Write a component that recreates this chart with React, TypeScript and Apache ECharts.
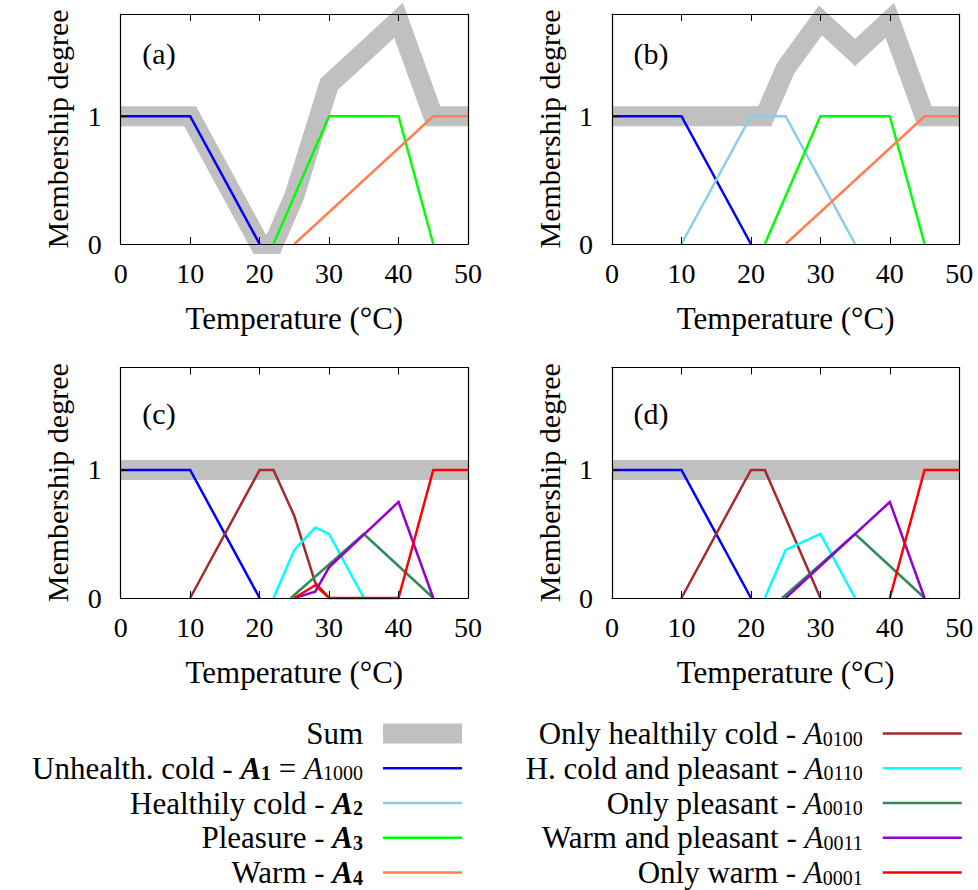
import React, { useEffect, useRef } from 'react';
import * as echarts from 'echarts';

type Pt = [number, number];

const FONT = 'Liberation Serif';

const xMin = 0;
const xMax = 50;
const xStep = 10;
const yMin = 0;
const yMax = 1.8;
const yStep = 1;
const xTitle = 'Temperature (°C)';
const yTitle = 'Membership degree';
const panelLetters = ['(a)', '(b)', '(c)', '(d)'];

const nameSum = 'Sum';
const nameA1 = 'Unhealth. cold - A1 = A1000';
const nameA2 = 'Healthily cold - A2';
const nameA3 = 'Pleasure - A3';
const nameA4 = 'Warm - A4';
const nameA0100 = 'Only healthily cold - A0100';
const nameA0110 = 'H. cold and pleasant - A0110';
const nameA0010 = 'Only pleasant - A0010';
const nameA0011 = 'Warm and pleasant - A0011';
const nameA0001 = 'Only warm - A0001';

const legendLeft = [nameSum, nameA1, nameA2, nameA3, nameA4];
const legendRight = [nameA0100, nameA0110, nameA0010, nameA0011, nameA0001];

const aSum: Pt[] = [[0, 1], [10, 1], [20, 0], [22, 0], [25, 0.375], [30, 1.25], [40, 1.75], [45, 1], [50, 1]];
const aA1: Pt[] = [[0, 1], [10, 1], [20, 0]];
const aA3: Pt[] = [[22, 0], [30, 1], [40, 1], [45, 0]];
const aA4: Pt[] = [[25, 0], [45, 1], [50, 1]];

const bSum: Pt[] = [[0, 1], [10, 1], [20, 1], [22, 1], [25, 1.375], [30, 1.75], [35, 1.5], [40, 1.75], [45, 1], [50, 1]];
const bA1: Pt[] = [[0, 1], [10, 1], [20, 0]];
const bA2: Pt[] = [[10, 0], [20, 1], [25, 1], [35, 0]];
const bA3: Pt[] = [[22, 0], [30, 1], [40, 1], [45, 0]];
const bA4: Pt[] = [[25, 0], [45, 1], [50, 1]];

const cSum: Pt[] = [[0, 1], [50, 1]];
const cA1000: Pt[] = [[0, 1], [10, 1], [20, 0]];
const cA0100: Pt[] = [[10, 0], [20, 1], [22, 1], [25, 0.64], [28, 0.12], [30, 0]];
const cA0110: Pt[] = [[22, 0], [25, 0.375], [28, 0.55], [30, 0.5], [35, 0]];
const cA0010: Pt[] = [[24.5, 0], [35, 0.5], [45, 0]];
const cA0011: Pt[] = [[25, 0], [28, 0.05], [30, 0.24], [40, 0.75], [45, 0]];
const cA0001: Pt[] = [[25, 0], [28, 0.1], [30, 0], [40, 0], [45, 1], [50, 1]];

const dSum: Pt[] = [[0, 1], [50, 1]];
const dA1000: Pt[] = [[0, 1], [10, 1], [20, 0]];
const dA0100: Pt[] = [[10, 0], [20, 1], [22, 1], [30, 0]];
const dA0110: Pt[] = [[22, 0], [25, 0.375], [30, 0.5], [35, 0]];
const dA0010: Pt[] = [[24.5, 0], [35, 0.5], [45, 0]];
const dA0011: Pt[] = [[25, 0], [40, 0.75], [45, 0]];
const dA0001: Pt[] = [[40, 0], [45, 1], [50, 1]];

const colors: Record<string, string> = {
  [nameSum]: '#c0c0c0',
  [nameA1]: '#0000ff',
  [nameA2]: '#87ceeb',
  [nameA3]: '#00ff00',
  [nameA4]: '#ff7f50',
  [nameA0100]: '#a52a2a',
  [nameA0110]: '#00ffff',
  [nameA0010]: '#2e8b57',
  [nameA0011]: '#9400d3',
  [nameA0001]: '#ff0000',
};

const richLabels: Record<string, string> = {
  [nameSum]: 'Sum',
  [nameA1]: 'Unhealth. cold - {bi|A}{bsub|1} = {it|A}{sub|1000}',
  [nameA2]: 'Healthily cold - {bi|A}{bsub|2}',
  [nameA3]: 'Pleasure - {bi|A}{bsub|3}',
  [nameA4]: 'Warm - {bi|A}{bsub|4}',
  [nameA0100]: 'Only healthily cold - {it|A}{sub|0100}',
  [nameA0110]: 'H. cold and pleasant - {it|A}{sub|0110}',
  [nameA0010]: 'Only pleasant - {it|A}{sub|0010}',
  [nameA0011]: 'Warm and pleasant - {it|A}{sub|0011}',
  [nameA0001]: 'Only warm - {it|A}{sub|0001}',
};

const panels: { name: string; data: Pt[] }[][] = [
  [
    { name: nameSum, data: aSum },
    { name: nameA1, data: aA1 },
    { name: nameA3, data: aA3 },
    { name: nameA4, data: aA4 },
  ],
  [
    { name: nameSum, data: bSum },
    { name: nameA1, data: bA1 },
    { name: nameA2, data: bA2 },
    { name: nameA3, data: bA3 },
    { name: nameA4, data: bA4 },
  ],
  [
    { name: nameSum, data: cSum },
    { name: nameA1, data: cA1000 },
    { name: nameA0100, data: cA0100 },
    { name: nameA0110, data: cA0110 },
    { name: nameA0010, data: cA0010 },
    { name: nameA0011, data: cA0011 },
    { name: nameA0001, data: cA0001 },
  ],
  [
    { name: nameSum, data: dSum },
    { name: nameA1, data: dA1000 },
    { name: nameA0100, data: dA0100 },
    { name: nameA0110, data: dA0110 },
    { name: nameA0010, data: dA0010 },
    { name: nameA0011, data: dA0011 },
    { name: nameA0001, data: dA0001 },
  ],
];

const gridBoxes = [
  { left: 120.7, top: 14, width: 347.3, height: 230 },
  { left: 612, top: 14, width: 347.3, height: 230 },
  { left: 120.7, top: 367.5, width: 347.3, height: 230.5 },
  { left: 612, top: 367.5, width: 347.3, height: 230.5 },
];
const letterPos = [
  [159, 53],
  [651, 53],
  [159, 413],
  [651, 413],
];

function buildOption(): echarts.EChartsCoreOption {
  const black = '#000';
  const axisLine = { show: true, onZero: false, lineStyle: { color: black, width: 1.2 } };
  const xAxes: any[] = [];
  const yAxes: any[] = [];
  const series: any[] = [];
  gridBoxes.forEach((_, i) => {
    xAxes.push({
      type: 'value', gridIndex: i, position: 'bottom', min: xMin, max: xMax, interval: xStep, z: 5,
      axisLine, axisTick: { inside: true, length: 7, lineStyle: { color: black } },
      axisLabel: { color: black, fontSize: 28, fontFamily: FONT, margin: 15 },
      splitLine: { show: false },
      name: xTitle, nameLocation: 'middle', nameGap: 59,
      nameTextStyle: { color: black, fontSize: 31, fontFamily: FONT },
    });
    xAxes.push({
      type: 'value', gridIndex: i, position: 'top', min: xMin, max: xMax, interval: xStep, z: 5,
      axisLine, axisTick: { inside: true, length: 7, lineStyle: { color: black } },
      axisLabel: { show: false }, splitLine: { show: false },
    });
    yAxes.push({
      type: 'value', gridIndex: i, position: 'left', min: yMin, max: yMax, interval: yStep, z: 5,
      axisLine, axisTick: { inside: true, length: 7, lineStyle: { color: black } },
      axisLabel: { color: black, fontSize: 28, fontFamily: FONT, margin: 19, showMaxLabel: false },
      splitLine: { show: false },
      name: yTitle, nameLocation: 'middle', nameGap: 48, nameRotate: 90,
      nameTextStyle: { color: black, fontSize: 30, fontFamily: FONT },
    });
    yAxes.push({
      type: 'value', gridIndex: i, position: 'right', min: yMin, max: yMax, interval: yStep, z: 5,
      axisLine, axisTick: { show: false }, axisLabel: { show: false }, splitLine: { show: false },
    });
    panels[i].forEach((s) => {
      const isSum = s.name === nameSum;
      series.push({
        type: 'line', name: s.name, data: s.data, xAxisIndex: 2 * i, yAxisIndex: 2 * i,
        symbol: 'none', showSymbol: false, clip: false, silent: true,
        color: colors[s.name],
        z: isSum ? 2 : 3,
        lineStyle: { color: colors[s.name], width: isSum ? 20 : 2.5, join: 'miter', miterLimit: 10, cap: 'butt' },
      });
    });
  });

  const rich = {
    bi: { fontFamily: FONT, fontSize: 31, fontWeight: 'bold', fontStyle: 'italic', lineHeight: 30, color: black },
    bsub: { fontFamily: FONT, fontSize: 20, fontWeight: 'bold', lineHeight: 14, verticalAlign: 'bottom', color: black },
    it: { fontFamily: FONT, fontSize: 31, fontStyle: 'italic', lineHeight: 30, color: black },
    sub: { fontFamily: FONT, fontSize: 20, lineHeight: 14, verticalAlign: 'bottom', color: black },
  };
  const legendCommon = {
    orient: 'vertical', align: 'right', itemWidth: 79, itemHeight: 20, itemGap: 3.75, padding: 0,
    top: 718, selectedMode: false,
    lineStyle: { width: 'inherit' },
    itemStyle: { opacity: 0, borderWidth: 0 },
    textStyle: { fontFamily: FONT, fontSize: 31, color: black, lineHeight: 30, padding: [0, 15, 0, 0], rich },
    formatter: (n: string) => richLabels[n] ?? n,
  };

  return {
    animation: false,
    backgroundColor: '#fff',
    textStyle: { fontFamily: FONT },
    grid: gridBoxes.map((g) => ({ ...g, containLabel: false })),
    xAxis: xAxes,
    yAxis: yAxes,
    series,
    legend: [
      { ...legendCommon, right: 978 - 472, data: legendLeft },
      { ...legendCommon, right: 978 - 963, data: legendRight },
    ],
    graphic: panelLetters.map((t, i) => ({
      type: 'text', x: letterPos[i][0], y: letterPos[i][1], z: 10,
      style: {
        text: t, fill: black, fontFamily: FONT, fontSize: 30,
        align: 'center', verticalAlign: 'middle', textAlign: 'center', textVerticalAlign: 'middle',
      },
    })),
  };
}

export default function App() {
  const ref = useRef<HTMLDivElement>(null);
  useEffect(() => {
    if (!ref.current) return;
    const chart = echarts.init(ref.current, undefined, { renderer: 'svg' });
    chart.setOption(buildOption());
    return () => chart.dispose();
  }, []);
  return (
    <div
      ref={ref}
      style={{ position: 'fixed', left: 0, top: 0, width: 978, height: 890, background: '#fff' }}
    />
  );
}
